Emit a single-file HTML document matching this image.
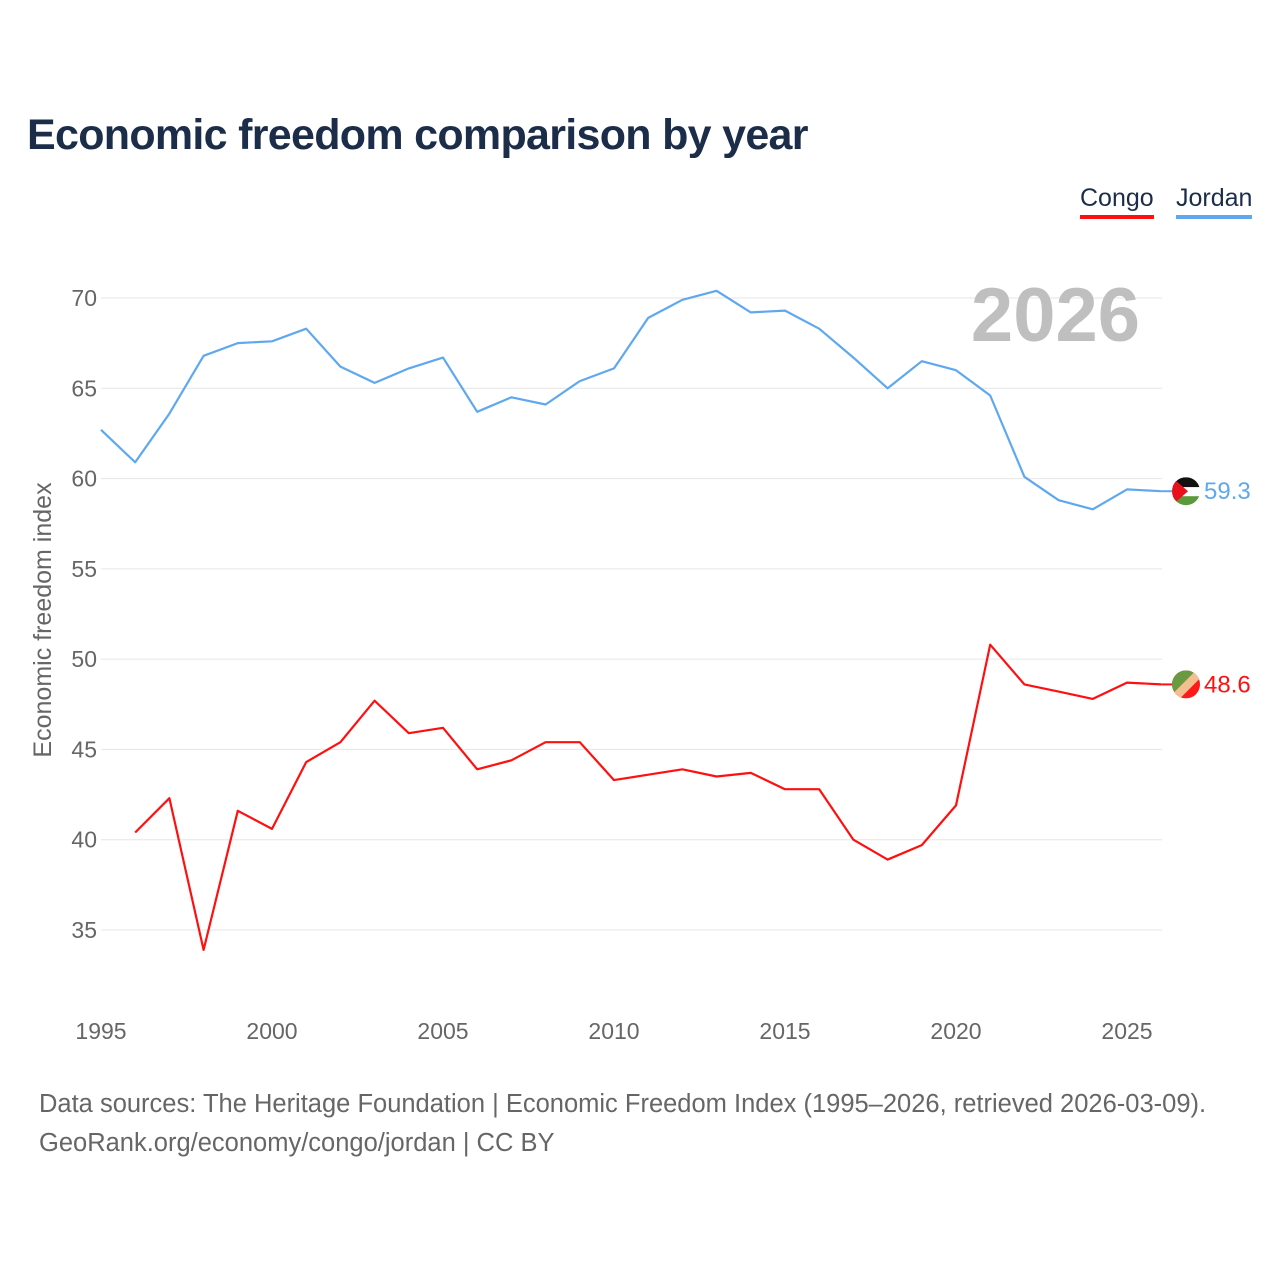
<!DOCTYPE html>
<html><head><meta charset="utf-8">
<style>
html,body{margin:0;padding:0;background:#fff;}
body{width:1280px;height:1280px;position:relative;font-family:"Liberation Sans",sans-serif;overflow:hidden;}
#title{position:absolute;left:27px;top:111px;font-size:43px;font-weight:bold;color:#1c2d4a;margin:0;letter-spacing:-0.7px}
.leg{position:absolute;top:184px;font-size:25px;color:#1c2d4a;padding-bottom:2px}
#footer{position:absolute;left:39px;top:1085px;font-size:25.5px;color:#666;line-height:39px}
</style></head><body>
<h1 id="title">Economic freedom comparison by year</h1>
<div class="leg" style="left:1080px;border-bottom:4px solid #ff1010">Congo</div>
<div class="leg" style="left:1176px;border-bottom:4px solid #5fa8ee">Jordan</div>
<svg id="chart" width="1280" height="1280" style="position:absolute;left:0;top:0"></svg>
<div id="footer">Data sources: The Heritage Foundation | Economic Freedom Index (1995–2026, retrieved 2026-03-09).<br>GeoRank.org/economy/congo/jordan | CC BY</div>
<script>
const years = [1995,1996,1997,1998,1999,2000,2001,2002,2003,2004,2005,2006,2007,2008,2009,2010,2011,2012,2013,2014,2015,2016,2017,2018,2019,2020,2021,2022,2023,2024,2025,2026];
const jordan = [62.7,60.9,63.6,66.8,67.5,67.6,68.3,66.2,65.3,66.1,66.7,63.7,64.5,64.1,65.4,66.1,68.9,69.9,70.4,69.2,69.3,68.3,66.7,65.0,66.5,66.0,64.6,60.1,58.8,58.3,59.4,59.3];
const congo = [null,40.4,42.3,33.9,41.6,40.6,44.3,45.4,47.7,45.9,46.2,43.9,44.4,45.4,45.4,43.3,43.6,43.9,43.5,43.7,42.8,42.8,40.0,38.9,39.7,41.9,50.8,48.6,48.2,47.8,48.7,48.6];
const yTicks = [35,40,45,50,55,60,65,70];
const xTicks = [1995,2000,2005,2010,2015,2020,2025];
const NS="http://www.w3.org/2000/svg";
const svg=document.getElementById('chart');
const x=v=>101+(v-1995)*34.2;
const y=v=>298+(70-v)*18.057;
function mk(t,a){const e=document.createElementNS(NS,t);for(const k in a)e.setAttribute(k,a[k]);svg.appendChild(e);return e;}
yTicks.forEach(t=>{
  const g=mk('line',{x1:101,x2:1162,y1:y(t),y2:y(t),stroke:'#e6e6e6','stroke-width':1});
  
  
  const l=mk('text',{x:97,y:y(t)+8,'text-anchor':'end','font-size':23,fill:'#666'});
  l.textContent=t;
  
  
});
xTicks.forEach(t=>{
  const l=mk('text',{x:x(t),y:1039,'text-anchor':'middle','font-size':23,fill:'#666'});
  l.textContent=t;
  
  
});
const yl=mk('text',{x:0,y:0,'text-anchor':'middle','font-size':25,fill:'#666',transform:'translate(51,620) rotate(-90)'});
yl.textContent='Economic freedom index';


const yr=mk('text',{x:1140,y:341,'text-anchor':'end','font-size':76,'font-weight':'bold',fill:'#bfbfbf'});
yr.textContent='2026';


function series(vals,color,name){
  let d='';let pen=false;
  vals.forEach((v,i)=>{if(v==null){pen=false;return;}d+=(pen?'L':'M')+x(years[i]).toFixed(1)+','+y(v).toFixed(1);pen=true;});
  const p=mk('path',{d:d,fill:'none',stroke:color,'stroke-width':2.2,'stroke-linejoin':'round'});
  
  
  const last=vals[vals.length-1];
  const ly=y(last);
  mk('line',{x1:x(2026),x2:1172,y1:ly,y2:ly,stroke:color,'stroke-width':2});
  const t=mk('text',{x:1204,y:ly+8,'font-size':24,fill:color});
  t.textContent=last.toFixed(1);
  
  
  return ly;
}
const jy=series(jordan,'#5fa8ee','jordan');
const cy=series(congo,'#ff1010','congo');
const cx=1186;
const defs=mk('defs',{});
defs.innerHTML='<clipPath id="cj"><circle cx="'+cx+'" cy="'+jy+'" r="14"/></clipPath><clipPath id="cc"><circle cx="'+cx+'" cy="'+cy+'" r="14"/></clipPath>';
const fj=mk('g',{'clip-path':'url(#cj)'});


fj.innerHTML='<rect x="1172" y="'+(jy-14)+'" width="28" height="10" fill="#111"/><rect x="1172" y="'+(jy-4)+'" width="28" height="9" fill="#fff"/><rect x="1172" y="'+(jy+5)+'" width="28" height="10" fill="#5a9a3a"/><polygon points="1172,'+(jy-14)+' 1188,'+jy+' 1172,'+(jy+14)+'" fill="#e8101a"/>';
const fc=mk('g',{'clip-path':'url(#cc)'});


fc.innerHTML='<rect x="1172" y="'+(cy-14)+'" width="28" height="28" fill="#ff1a1a"/><polygon points="1172,'+(cy-14)+' 1196,'+(cy-14)+' 1172,'+(cy+10)+'" fill="#6a9a40"/><polygon points="1196,'+(cy-14)+' 1202,'+(cy-14)+' 1202,'+(cy-8)+' 1178,'+(cy+16)+' 1172,'+(cy+16)+' 1172,'+(cy+10)+'" fill="#f2c090"/>';
</script>
</body></html>
